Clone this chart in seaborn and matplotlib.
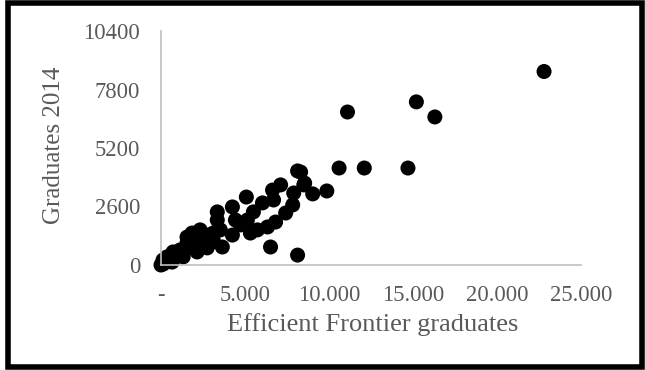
import matplotlib
matplotlib.use("Agg")
import matplotlib.pyplot as plt
from matplotlib.patches import Rectangle
import seaborn as sns
import pandas as pd

# values
frontier = [22800, 15200, 16300, 11100, 10600, 12100, 14700, 9870, 9030, 8500,
            8310, 8130, 8130, 8550, 6520, 7120, 6640, 6040, 5080, 4250,
            3350, 7900, 7840, 7420, 6820, 6340, 5740, 5320, 4720, 4250,
            4430, 5140, 5500, 6700, 3350, 3110, 2930, 2330, 1850, 1550,
            2150, 1320, 720, 360, 0, 150, 660, 1140, 1610, 2750,
            2510, 3110, 3530, 3650, 1550, 2030, 2330, 960, 1910, 2750, 120]
grads_2014 = [8600, 7250, 6580, 6800, 4310, 4310, 4310, 3290, 3160, 3560,
              4130, 4180, 440, 3640, 800, 3560, 3330, 2760, 3020, 2580,
              2360, 3200, 2670, 2310, 1910, 1690, 1560, 1420, 1780, 1330,
              2000, 2000, 2360, 2890, 2000, 1420, 980, 1560, 1420, 980,
              580, 360, 580, 360, 0, 50, 130, 670, 1110, 1330,
              1110, 1110, 1560, 800, 1240, 1240, 1110, 530, 760, 760, 220]

x_ticks = [0, 5000, 10000, 15000, 20000, 25000]
x_tick_labels = ["-", "5.000", "10.000", "15.000", "20.000", "25.000"]
y_ticks = [0, 2600, 5200, 7800, 10400]

df = pd.DataFrame({"frontier": frontier, "grads": grads_2014})

sns.set_style("white")
plt.rcParams['font.family'] = ['Liberation Serif', 'DejaVu Serif']

text_col = "#595959"
axis_col = "#BFBFBF"

fig = plt.figure(figsize=(6.45, 3.70), dpi=100)
ax = fig.add_axes([0.2496, 0.2838, 0.6512, 0.6324])

sns.scatterplot(data=df, x="frontier", y="grads", ax=ax, color="black",
                s=117, edgecolor="none", linewidth=0, clip_on=False)

ax.set_xlim(0, 25000)
ax.set_ylim(0, 10400)
ax.set_xticks(x_ticks)
ax.set_xticklabels(x_tick_labels)
ax.set_yticks(y_ticks)
ax.set_yticklabels([str(v) for v in y_ticks])
ax.tick_params(axis="both", length=0, labelsize=16.3, colors=text_col)
ax.tick_params(axis="x", pad=14.5)
ax.tick_params(axis="y", pad=15)

for side in ["top", "right"]:
    ax.spines[side].set_visible(False)
for side in ["left", "bottom"]:
    ax.spines[side].set_color(axis_col)
    ax.spines[side].set_linewidth(1.2)

ax.set_xlabel("Efficient Frontier graduates", fontsize=19, color=text_col)
ax.set_ylabel("Graduates 2014", fontsize=18, color=text_col)
ax.xaxis.set_label_coords(0.505, -0.205)
ax.yaxis.set_label_coords(-0.228, 0.51)

# thick black frame around the whole picture
fig.patches.append(Rectangle((8 / 645, 3 / 370), 634 / 645, 364 / 370,
                             transform=fig.transFigure, fill=False,
                             edgecolor="black", linewidth=4))

fig.savefig("out.png", dpi=100)
